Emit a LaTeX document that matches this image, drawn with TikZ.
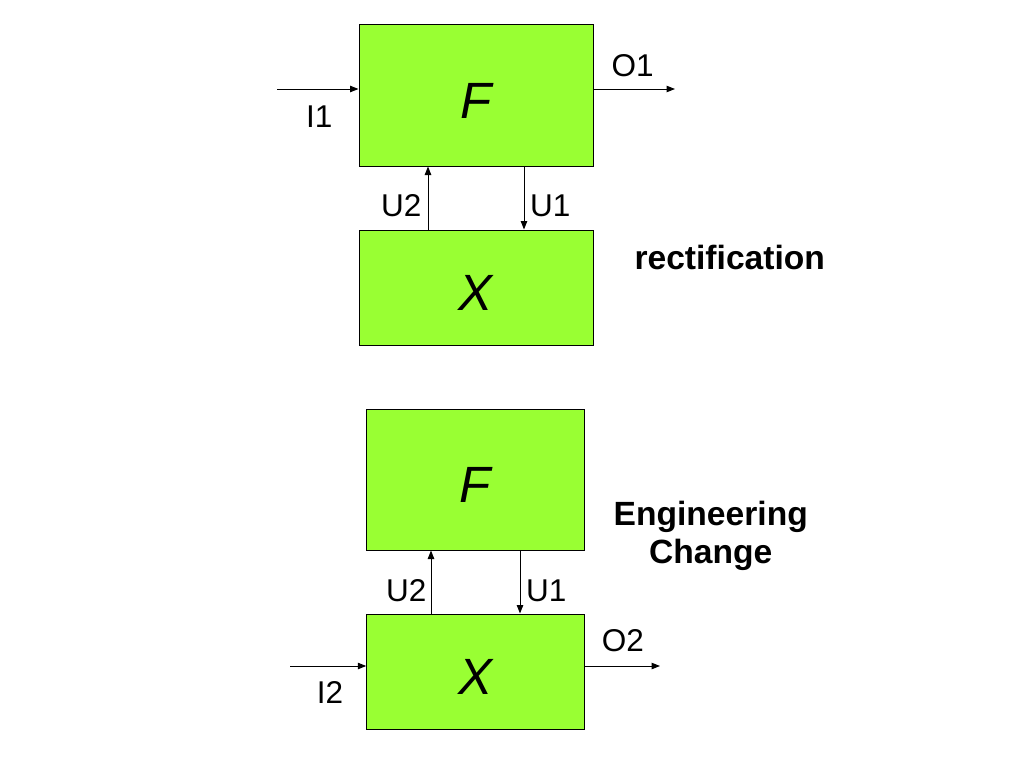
\documentclass[tikz,border=0pt]{standalone}
\usepackage{fontspec}
\setmainfont{Liberation Sans}
\usetikzlibrary{arrows.meta,positioning}
\definecolor{boxgreen}{RGB}{153,255,51}
\begin{document}
\begin{tikzpicture}[x=1pt,y=-1pt,
  block/.style={draw, fill=boxgreen, line width=1pt, inner sep=0pt,
    text height=46pt, text depth=0pt, font=\fontsize{51}{51}\selectfont\itshape},
  sig/.style={line width=1pt, -{Triangle[length=8.5pt,width=6.5pt]}},
  lab/.style={inner sep=0pt, anchor=base west, font=\fontsize{31.5}{31.5}\selectfont},
  note/.style={inner sep=0pt, align=center, font=\fontsize{33.6}{38.3}\selectfont\bfseries}]
  \useasboundingbox (0,0) rectangle (1024,768);

  \node[block, minimum width=234pt, minimum height=141pt] (f1) at (476,95.5) {F};
  \node[block, minimum width=234pt, minimum height=115pt] (x1) at (476,287.5) {X};
  \coordinate (i1) at (277,89);
  \coordinate (o1) at (675,89);
  \draw[sig] (i1) -- (i1 -| f1.west);
  \draw[sig] (o1 -| f1.east) -- (o1);
  \draw[sig] ([xshift=-48pt]x1.north) -- ([xshift=-48pt]f1.south);
  \draw[sig] ([xshift=48pt]f1.south) -- ([xshift=48pt]x1.north);
  \node[lab] (li1) at (306,127) {I1};
  \node[lab] (lo1) at (611.5,76.7) {O1};
  \node[lab] (lu21) at (381,216.7) {U2};
  \node[lab] (lu11) at (530,216.7) {U1};
  \node[note, anchor=base west] (rect) at (634.3,269) {rectification};

  \node[block, minimum width=217.5pt, minimum height=141pt] (f2) at (475.5,479.5) {F};
  \node[block, minimum width=217.5pt, minimum height=115pt] (x2) at (475.5,671.5) {X};
  \coordinate (i2) at (290,666);
  \coordinate (o2) at (660,666);
  \draw[sig] (i2) -- (i2 -| x2.west);
  \draw[sig] (o2 -| x2.east) -- (o2);
  \draw[sig] ([xshift=-44.5pt]x2.north) -- ([xshift=-44.5pt]f2.south);
  \draw[sig] ([xshift=44.5pt]f2.south) -- ([xshift=44.5pt]x2.north);
  \node[lab] (li2) at (316.7,703.3) {I2};
  \node[lab] (lo2) at (601.7,651.7) {O2};
  \node[lab] (lu22) at (386,601.7) {U2};
  \node[lab] (lu12) at (526,601.7) {U1};
  \node[note, anchor=base] (eng) at (710.7,563.3) {Engineering\\Change};
\end{tikzpicture}
\end{document}
